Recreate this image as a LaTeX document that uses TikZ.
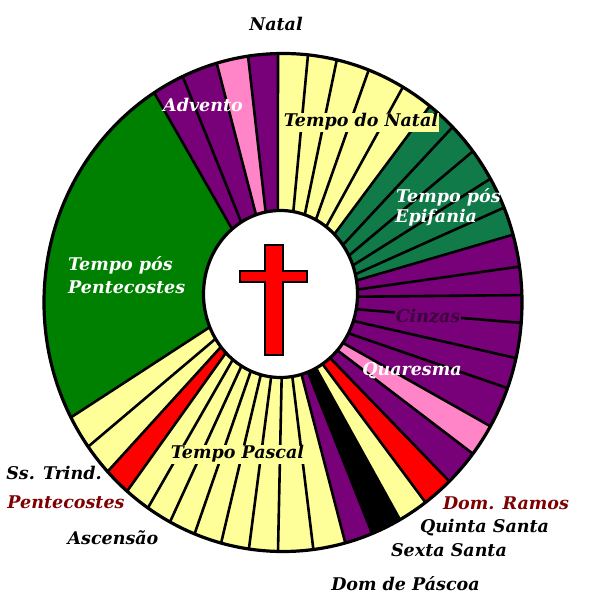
\documentclass[tikz,border=0pt]{standalone}
\usepackage{fontspec}
\setmainfont{DejaVu Serif}
\usetikzlibrary{calc}
\definecolor{lyel}{HTML}{FFFF99}
\definecolor{lpur}{HTML}{780078}
\definecolor{lpink}{HTML}{FF85C8}
\definecolor{pgr}{HTML}{008000}
\definecolor{tgr}{HTML}{107A48}
\definecolor{dred}{HTML}{7F0000}
\definecolor{dpur}{HTML}{3C003C}
\begin{document}
\begin{tikzpicture}[x=1pt,y=1pt,
  lab/.style={font=\fontsize{17.5}{20}\selectfont\bfseries\itshape, inner sep=1pt, anchor=base},
  spoke/.style={line width=2.6pt, black},
  rim/.style={line width=3.2pt, black}]
\useasboundingbox (0,0) rectangle (589,608);
\fill[white] (0,0) rectangle (589,608);
\coordinate (O) at (283,305.5);
\coordinate (I) at (280.5,314);
% segments
\foreach \ta/\pa/\tb/\pb/\c in {
122.6/129.7/114.8/121.4/lpur,
114.8/121.4/106.1/108.9/lpur,
106.1/108.9/98.4/101.5/lpink,
98.4/101.5/91.2/92.1/lpur,
91.2/92.1/84/80.1/lyel,
84/80.1/77/71.1/lyel,
77/71.1/69/62/lyel,
69/62/59.9/53/lyel,
59.9/53/52.1/45/lyel,
52.1/45/44.8/35/tgr,
44.8/35/37.4/26.4/tgr,
37.4/26.4/29.8/19.1/tgr,
29.8/19.1/22.4/12.9/tgr,
22.4/12.9/15.8/8.8/tgr,
15.8/8.8/8.3/2.7/lpur,
8.3/2.7/1.7/-2/lpur,
1.7/-2/-4.7/-10.8/lpur,
-4.7/-10.8/-12.9/-19.1/lpur,
-12.9/-19.1/-20.1/-28.5/lpur,
-20.1/-28.5/-29.8/-36.1/lpur,
-29.8/-36.1/-37.4/-42.5/lpink,
-37.4/-42.5/-45.9/-50/lpur,
-45.9/-50/-53.4/-57/red,
-53.4/-57/-60.7/-62.5/lyel,
-60.7/-62.5/-68.1/-69/black,
-68.1/-69/-74.9/-74/lpur,
-74.9/-74/-82.7/-81/lyel,
-82.7/-81/-91.2/-89/lyel,
-91.2/-89/-98.2/-97/lyel,
-98.2/-97/-105/-105/lyel,
-105/-105/-111.7/-113/lyel,
-111.7/-113/-118.2/-121/lyel,
-118.2/-121/-124.4/-129/lyel,
-124.4/-129/-130.7/-136/lyel,
-130.7/-136/-137.2/-141.4/red,
-137.2/-141.4/-144.6/-148.2/lyel,
-144.6/-148.2/-152.5/-157.4/lyel,
-152.5/-157.4/-237.4/-230.3/pgr}
{
  \fill[\c] ($(O)+(\ta:240pt and 250pt)$) arc[start angle=\ta, end angle=\tb, x radius=240pt, y radius=250pt]
     -- ($(I)+(\pb:72pt and 79pt)$) -- ($(I)+(\pa:72pt and 79pt)$) -- cycle;
}
% spokes
\foreach \t/\p in {122.6/129.7, 114.8/121.4, 106.1/108.9, 98.4/101.5, 91.2/92.1,
  84/80.1, 77/71.1, 69/62, 59.9/53, 52.1/45, 44.8/35, 37.4/26.4, 29.8/19.1,
  22.4/12.9, 15.8/8.8, 8.3/2.7, 1.7/-2, -4.7/-10.8, -12.9/-19.1, -20.1/-28.5,
  -29.8/-36.1, -37.4/-42.5, -45.9/-50, -53.4/-57, -60.7/-62.5, -68.1/-69,
  -74.9/-74, -82.7/-81, -91.2/-89, -98.2/-97, -105/-105, -111.7/-113,
  -118.2/-121, -124.4/-129, -130.7/-136, -137.2/-141.4, -144.6/-148.2, -152.5/-157.4}
{
  \draw[spoke] ($(I)+(\p:72pt and 79pt)$) -- ($(O)+(\t:240pt and 250pt)$);
}
% rims
\draw[rim] (O) ellipse[x radius=239pt, y radius=249pt];
\draw[rim, fill=white] (I) ellipse[x radius=77pt, y radius=83.5pt];
% cross
\draw[line width=2pt, fill=red] (265,253) -- (283,253) -- (283,326) -- (307,326) -- (307,337)
  -- (283,337) -- (283,363) -- (265,363) -- (265,337) -- (240,337) -- (240,326) -- (265,326) -- cycle;
% labels
\node[lab] (natal) at (276,577) {Natal};
\node[lab, white] (advento) at (203,496) {Advento};
\node[lab, fill=lyel] (tnatal) at (361,481) {Tempo do Natal};
\node[lab, white, anchor=base west] (epi1) at (395,405) {Tempo pós};
\node[lab, white, anchor=base west] (epi2) at (394,385) {Epifania};
\node[lab, white, anchor=base west] (pent1) at (67,337) {Tempo pós};
\node[lab, white, anchor=base west] (pent2) at (67,314) {Pentecostes};
\node[lab, dpur, fill=lpur] (cinzas) at (428,285) {Cinzas};
\node[lab, white] (quaresma) at (412,232) {Quaresma};
\node[lab, fill=lyel] (tpascal) at (237.5,149) {Tempo Pascal};
\node[lab] (trind) at (54,128) {Ss. Trind.};
\node[lab, dred] (pentec) at (66,99) {Pentecostes};
\node[lab] (ascensao) at (113,63) {Ascensão};
\node[lab, dred] (ramos) at (506,98) {Dom. Ramos};
\node[lab] (quinta) at (484.5,75) {Quinta Santa};
\node[lab] (sexta) at (449,51) {Sexta Santa};
\node[lab] (pascoa) at (405.5,17) {Dom de Páscoa};
\end{tikzpicture}
\end{document}
